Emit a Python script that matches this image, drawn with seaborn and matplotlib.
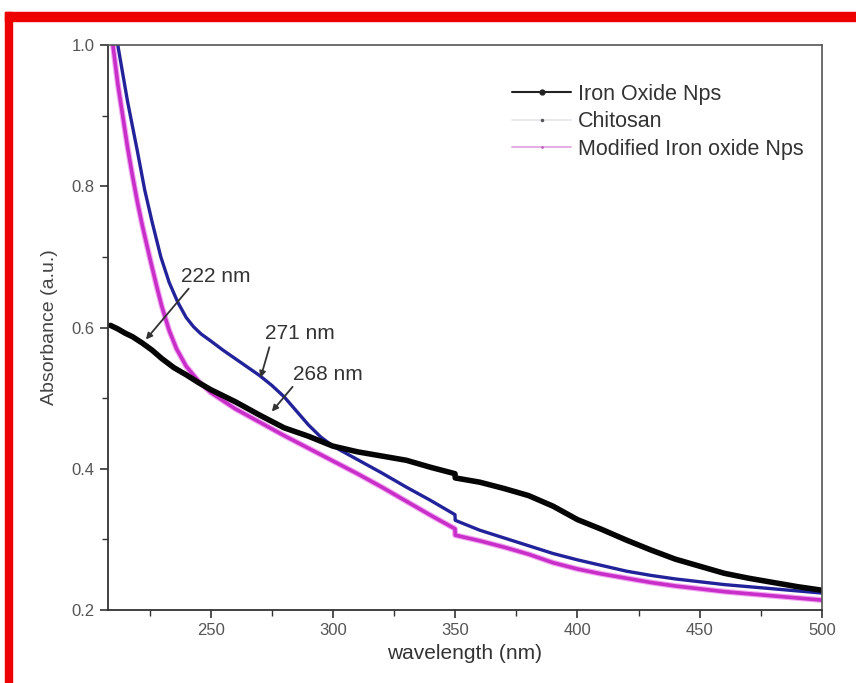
import numpy as np
import pandas as pd
import seaborn as sns
import matplotlib
matplotlib.use("Agg")
import matplotlib.pyplot as plt
from matplotlib.lines import Line2D
from matplotlib.patches import Rectangle
import matplotlib.patheffects as pe
from matplotlib.ticker import MultipleLocator

# ---- data ----
wl_iron = [209, 212, 215, 218, 222, 226, 230, 235, 240, 245, 250, 260, 270, 280, 290,
           300, 310, 320, 330, 340, 349.9, 350, 360, 370, 380, 390, 400, 410, 420,
           430, 440, 450, 460, 470, 480, 490, 500]
abs_iron = [0.603, 0.598, 0.592, 0.587, 0.578, 0.568, 0.556, 0.543, 0.533, 0.522, 0.512,
            0.495, 0.476, 0.458, 0.446, 0.432, 0.424, 0.418, 0.412, 0.402, 0.393, 0.387,
            0.381, 0.372, 0.362, 0.347, 0.328, 0.314, 0.299, 0.285, 0.272, 0.262, 0.252,
            0.245, 0.239, 0.233, 0.228]

wl_chit = [211, 212, 214, 216, 218, 220, 223, 226, 229.6, 233, 236.5, 240, 243, 246, 250,
           255, 260, 270, 275, 280, 285, 290, 295, 300, 310, 320, 330, 340, 349.9, 350,
           360, 370, 380, 390, 400, 410, 420, 430, 440, 450, 460, 470, 480, 490, 500]
abs_chit = [1.03, 1.0, 0.96, 0.92, 0.885, 0.85, 0.795, 0.75, 0.70, 0.664, 0.636, 0.614,
            0.601, 0.591, 0.581, 0.568, 0.556, 0.532, 0.518, 0.502, 0.482, 0.462, 0.445,
            0.432, 0.413, 0.394, 0.374, 0.355, 0.335, 0.327, 0.313, 0.302, 0.291, 0.280,
            0.271, 0.263, 0.255, 0.249, 0.244, 0.240, 0.236, 0.233, 0.230, 0.227, 0.224]

wl_mod = [209, 210, 212, 214, 216, 218, 220, 222, 225, 228, 230, 233, 236, 240, 245, 250,
          260, 270, 280, 290, 300, 310, 320, 330, 340, 349.9, 350, 360, 370, 380, 390,
          400, 410, 420, 430, 440, 450, 460, 470, 480, 490, 500]
abs_mod = [1.03, 1.0, 0.945, 0.90, 0.855, 0.815, 0.778, 0.745, 0.70, 0.657, 0.630, 0.596,
           0.570, 0.545, 0.524, 0.508, 0.485, 0.466, 0.447, 0.429, 0.411, 0.393, 0.374,
           0.354, 0.334, 0.315, 0.306, 0.298, 0.289, 0.279, 0.267, 0.258, 0.251, 0.245,
           0.239, 0.234, 0.230, 0.226, 0.223, 0.220, 0.217, 0.214]

labels = ["Iron Oxide Nps", "Chitosan", "Modified Iron oxide Nps"]
annotations = ["222 nm", "271 nm", "268 nm"]
x_ticks = [250, 300, 350, 400, 450, 500]
y_ticks = [0.2, 0.4, 0.6, 0.8, 1.0]

sns.set_style("ticks")
plt.rcParams['font.family'] = ['Liberation Sans', 'DejaVu Sans']

fig = plt.figure(figsize=(8.56, 6.83), dpi=100)
ax = fig.add_axes([108/856, 1-610/683, (822-108)/856, (610-45)/683])

df_iron = pd.DataFrame({"wl": wl_iron, "a": abs_iron})
df_chit = pd.DataFrame({"wl": wl_chit, "a": abs_chit})
df_mod = pd.DataFrame({"wl": wl_mod, "a": abs_mod})

sns.lineplot(data=df_mod, x="wl", y="a", ax=ax, color="#c82ec8", lw=2.6, sort=False,
             path_effects=[pe.Stroke(linewidth=4.2, foreground="#f2a6f2"), pe.Normal()])
sns.lineplot(data=df_chit, x="wl", y="a", ax=ax, color="#22229a", lw=2.4, sort=False)
sns.lineplot(data=df_iron, x="wl", y="a", ax=ax, color="#050505", lw=4.0, sort=False)

ax.set_xlim(208, 500)
ax.set_ylim(0.2, 1.0)
ax.set_xticks(x_ticks)
ax.set_yticks(y_ticks)
ax.set_yticklabels([f"{v:.1f}" for v in y_ticks])
ax.xaxis.set_minor_locator(MultipleLocator(25))
ax.yaxis.set_minor_locator(MultipleLocator(0.1))
ax.tick_params(which="major", direction="out", length=6, width=1.2, colors="#333333",
               labelsize=12, labelcolor="#555555")
ax.tick_params(which="minor", direction="out", length=4, width=1.0, colors="#333333")
for s in ["left", "bottom"]:
    ax.spines[s].set_color("#333333")
    ax.spines[s].set_linewidth(1.3)
for s in ["top", "right"]:
    ax.spines[s].set_visible(True)
    ax.spines[s].set_color("#555555")
    ax.spines[s].set_linewidth(1.2)

ax.set_xlabel("wavelength (nm)", fontsize=15, color="#333333", labelpad=4)
ax.set_ylabel("Absorbance (a.u.)", fontsize=14, color="#444444", labelpad=10)

# annotations
arrow = dict(arrowstyle="-|>", color="#333333", lw=1.3, mutation_scale=9, shrinkA=0, shrinkB=0)
ax.text(252, 0.672, annotations[0], fontsize=15, color="#333333", ha="center", va="center")
ax.annotate("", xy=(223.5, 0.583), xytext=(241, 0.655), arrowprops=arrow)
ax.text(286.5, 0.592, annotations[1], fontsize=15, color="#333333", ha="center", va="center")
ax.annotate("", xy=(270.4, 0.529), xytext=(274, 0.572), arrowprops=arrow)
ax.text(298, 0.534, annotations[2], fontsize=15, color="#333333", ha="center", va="center")
ax.annotate("", xy=(275, 0.481), xytext=(283.5, 0.516), arrowprops=arrow)

handles = [
    Line2D([], [], color="#222222", lw=1.5, marker="o", markersize=3.5),
    Line2D([], [], color="#e4e4ee", lw=1.2, marker=".", markersize=3, markerfacecolor="#555555",
           markeredgecolor="#555555"),
    Line2D([], [], color="#e0a8e0", lw=1.3, marker=".", markersize=2, markerfacecolor="#c060c0",
           markeredgecolor="#c060c0"),
]
leg = ax.legend(handles, labels, loc="upper left", bbox_to_anchor=(0.539, 0.966), frameon=False,
                fontsize=15.5, handlelength=2.75, handletextpad=0.3, labelspacing=0.3)
for t in leg.get_texts():
    t.set_color("#333333")

# red frame around the picture
fig.patches.append(Rectangle((5/856, 1-21/683), 1-5/856, 9/683, transform=fig.transFigure,
                             color="#ee0000", zorder=0))
fig.patches.append(Rectangle((5/856, 0), 7/856, 1-12/683, transform=fig.transFigure,
                             color="#ee0000", zorder=0))

fig.savefig("out.png", dpi=100)
